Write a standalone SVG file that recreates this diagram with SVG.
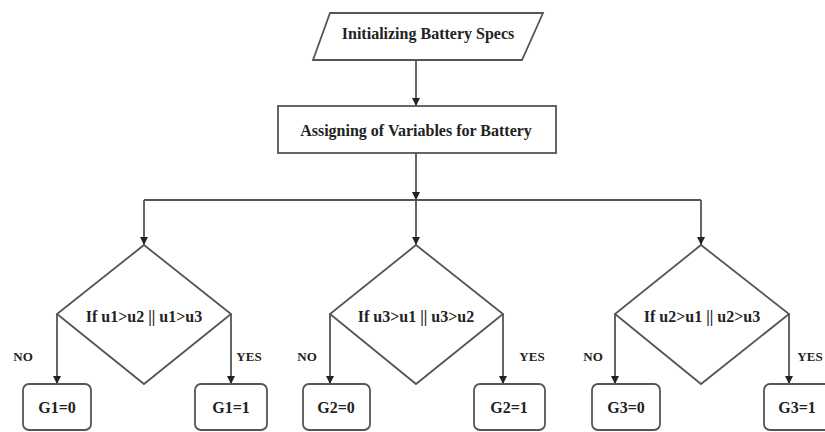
<svg xmlns="http://www.w3.org/2000/svg" width="825" height="432" viewBox="0 0 825 432">
<defs>
<marker id="ah" viewBox="0 0 10 10" refX="10" refY="5" markerWidth="8" markerHeight="8" markerUnits="userSpaceOnUse" orient="auto">
<path d="M0,0 L10,5 L0,10 z" fill="#222"/>
</marker>
<style>
.s{fill:#fff;stroke:#555;stroke-width:1.8}
.c{fill:none;stroke:#555;stroke-width:1.8}
.a{marker-end:url(#ah)}
.t{font-family:"Liberation Serif","Times New Roman",serif;font-weight:bold;font-size:16px;fill:#222;text-anchor:middle;dominant-baseline:central}
.l{font-size:13px}
</style>
</defs>
<rect width="825" height="432" fill="#fff"/>
<g id="connectors">
<line class="c a" x1="416" y1="60" x2="416" y2="106"/>
<line class="c a" x1="416" y1="153" x2="416" y2="200"/>
<line class="c" x1="144" y1="200" x2="701" y2="200"/>
<line class="c a" x1="416" y1="200" x2="416" y2="245"/>
<line class="c a" x1="144" y1="200" x2="144" y2="245"/>
<line class="c a" x1="701" y1="200" x2="701" y2="245"/>
<line class="c a" x1="57" y1="314" x2="57" y2="384"/>
<line class="c a" x1="231" y1="314" x2="231" y2="384"/>
<line class="c a" x1="330" y1="314" x2="330" y2="384"/>
<line class="c a" x1="503" y1="314" x2="503" y2="384"/>
<line class="c a" x1="615" y1="314" x2="615" y2="384"/>
<line class="c a" x1="789" y1="314" x2="789" y2="384"/>
<text class="t l" x="23" y="356">NO</text>
<text class="t l" x="249" y="356">YES</text>
<text class="t l" x="307" y="356">NO</text>
<text class="t l" x="532" y="356">YES</text>
<text class="t l" x="593" y="356">NO</text>
<text class="t l" x="810" y="356">YES</text>
</g>
<g id="init">
<polygon class="s" points="330,13 543,13 522,60 313,60"/>
<text class="t" x="428" y="33">Initializing Battery Specs</text>
</g>
<g id="assign">
<rect class="s" x="278" y="106" width="278" height="47"/>
<text class="t" x="416" y="130">Assigning of Variables for Battery</text>
</g>
<g id="d1">
<polygon class="s" points="144,245 231,314 144,384 57,314"/>
<text class="t" x="144" y="316">If u1&gt;u2 || u1&gt;u3</text>
</g>
<g id="d2">
<polygon class="s" points="416,245 503,314 416,384 330,314"/>
<text class="t" x="416" y="316">If u3&gt;u1 || u3&gt;u2</text>
</g>
<g id="d3">
<polygon class="s" points="701,245 789,314 701,384 615,314"/>
<text class="t" x="702" y="316">If u2&gt;u1 || u2&gt;u3</text>
</g>
<g id="g10">
<rect class="s" x="23" y="384" width="68" height="46" rx="6"/>
<text class="t" x="57" y="407">G1=0</text>
</g>
<g id="g11">
<rect class="s" x="195" y="384" width="72" height="46" rx="6"/>
<text class="t" x="231" y="407">G1=1</text>
</g>
<g id="g20">
<rect class="s" x="303" y="384" width="67" height="46" rx="6"/>
<text class="t" x="336" y="407">G2=0</text>
</g>
<g id="g21">
<rect class="s" x="474" y="384" width="71" height="46" rx="6"/>
<text class="t" x="509" y="407">G2=1</text>
</g>
<g id="g30">
<rect class="s" x="592" y="384" width="68" height="46" rx="6"/>
<text class="t" x="626" y="407">G3=0</text>
</g>
<g id="g31">
<rect class="s" x="764" y="384" width="68" height="46" rx="6"/>
<text class="t" x="797" y="407">G3=1</text>
</g>
</svg>
